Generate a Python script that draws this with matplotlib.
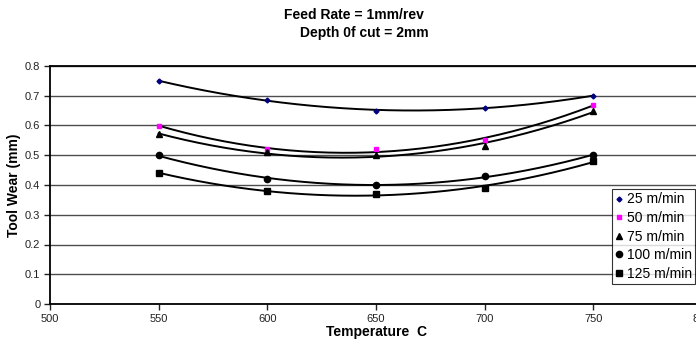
import matplotlib
matplotlib.use("Agg")
import matplotlib.pyplot as plt
import numpy as np

plt.rcParams['font.family'] = ['Liberation Sans', 'DejaVu Sans']

# Tool wear vs temperature at fixed feed / depth of cut
temps = [550, 600, 650, 700, 750]
wear_25 = [0.75, 0.685, 0.65, 0.66, 0.70]
wear_50 = [0.60, 0.52, 0.52, 0.55, 0.67]
wear_75 = [0.57, 0.51, 0.50, 0.53, 0.65]
wear_100 = [0.50, 0.42, 0.40, 0.43, 0.50]
wear_125 = [0.44, 0.38, 0.37, 0.39, 0.48]
labels = ['25 m/min', '50 m/min', '75 m/min', '100 m/min', '125 m/min']

series = [wear_25, wear_50, wear_75, wear_100, wear_125]
styles = [
    dict(marker='D', color='#000080', ms=2.5),
    dict(marker='s', color='#ff00ff', ms=3.5),
    dict(marker='^', color='black', ms=5),
    dict(marker='o', color='black', ms=4.5),
    dict(marker='s', color='black', ms=4.5),
]

fig = plt.figure(figsize=(6.96, 3.47), dpi=100)
ax = fig.add_axes([50 / 696, 43 / 347, 652 / 696, 238 / 347])

# polynomial trendlines (2nd order) through each series
x = np.array(temps, dtype=float)
xs = np.linspace(550, 750, 200)
for y in series:
    coef = np.polyfit(x, y, 2)
    ax.plot(xs, np.polyval(coef, xs), color='black', lw=1.4, zorder=3)

handles = []
for y, st, lab in zip(series, styles, labels):
    h, = ax.plot(temps, y, linestyle='none', marker=st['marker'],
                 color=st['color'], markersize=st['ms'], label=lab, zorder=4)
    handles.append(h)

ax.set_xlim(500, 800)
ax.set_ylim(0, 0.8)
ax.set_xticks([500, 550, 600, 650, 700, 750, 800])
ax.set_yticks(np.arange(0, 0.81, 0.1))
ax.set_yticklabels(['0', '0.1', '0.2', '0.3', '0.4', '0.5', '0.6', '0.7', '0.8'])
ax.yaxis.grid(True, color='#4d4d4d', lw=1)
ax.set_axisbelow(True)
ax.tick_params(labelsize=8, colors='#222222', length=4, width=1, pad=3)

for s in ['left', 'bottom', 'top']:
    ax.spines[s].set_color('black')
    ax.spines[s].set_linewidth(1.3)
ax.spines['right'].set_visible(False)

ax.set_xlabel('Temperature  C', fontsize=10, fontweight='bold', labelpad=1)
ax.set_ylabel('Tool Wear (mm)', fontsize=10, fontweight='bold', labelpad=3)

fig.text(354 / 696, 1 - 15 / 347, 'Feed Rate = 1mm/rev', ha='center', va='center',
         fontsize=10, fontweight='bold')
fig.text(364 / 696, 1 - 32.5 / 347, 'Depth 0f cut = 2mm', ha='center', va='center',
         fontsize=10, fontweight='bold')

leg = ax.legend(handles=handles, loc='upper left',
                bbox_to_anchor=(612 / 696, 1 - 189 / 347), bbox_transform=fig.transFigure,
                fontsize=10, frameon=True, fancybox=False, edgecolor='black',
                handlelength=0.5, handletextpad=0.3, borderpad=0.25,
                labelspacing=0.33, borderaxespad=0)
leg.get_frame().set_linewidth(0.8)

fig.savefig('out.png', dpi=100)
